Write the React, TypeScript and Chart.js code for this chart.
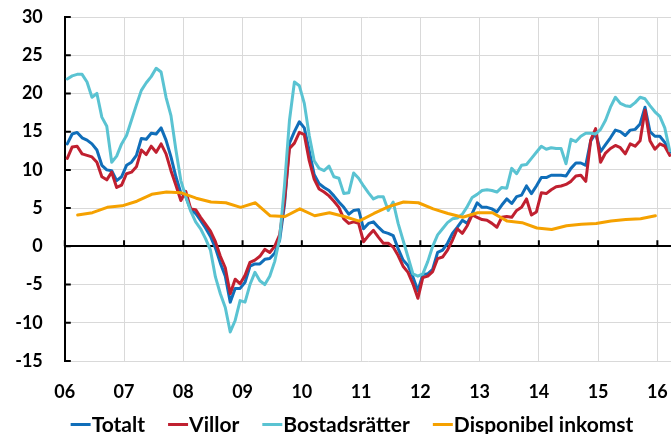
import { useEffect, useRef } from "react";
import { Chart, registerables } from "chart.js";

Chart.register(...registerables);

// ---------- data ----------
const START_YEAR = 2006;
const YEAR_TICKS = [2006, 2007, 2008, 2009, 2010, 2011, 2012, 2013, 2014, 2015, 2016];
const YEAR_LABELS = ["06", "07", "08", "09", "10", "11", "12", "13", "14", "15", "16"];
const Y_MIN = -15;
const Y_MAX = 30;
const Y_STEP = 5;
const X_MAX = 2016.23;

const SERIES_NAMES = ["Totalt", "Villor", "Bostadsrätter", "Disponibel inkomst"];
const SERIES_COLORS = ["#106eb9", "#c02030", "#5ac3d2", "#f5a100"];

// monthly, Jan 2006 .. Mar 2016
const TOTALT = [
  13.4, 14.7, 14.9, 14.2, 13.9, 13.4, 12.6, 10.6, 10.0, 9.9, 8.6, 9.1,
  10.6, 11.0, 11.9, 14.1, 14.0, 14.8, 14.7, 15.5, 13.9, 11.7, 9.1, 7.0,
  6.5, 4.8, 4.3, 3.4, 2.4, 1.3, -0.2, -2.2, -3.9, -7.3, -5.5, -5.5,
  -4.7, -2.6, -2.3, -2.3, -1.7, -1.6, -0.9, 0.8, 5.5, 13.5, 15.0, 16.3,
  15.5, 12.5, 9.4, 8.2, 7.7, 7.3, 6.6, 5.8, 5.1, 4.2, 4.7, 4.8,
  2.3, 3.0, 3.2, 2.5, 1.9, 1.7, 1.4, -0.3, -1.8, -2.5, -4.0, -5.8,
  -3.7, -3.6, -3.0, -0.8, -0.5, 0.4, 1.7, 2.5, 3.4, 3.0, 4.3, 5.7,
  5.1, 5.1, 4.9, 4.5, 5.4, 6.2, 5.6, 6.5, 6.7, 7.9, 6.9, 7.9,
  9.0, 9.0, 9.3, 9.3, 9.3, 9.2, 10.2, 10.9, 10.9, 10.6, 13.8, 14.8,
  12.4, 13.3, 14.2, 15.2, 15.0, 14.5, 15.2, 15.3, 16.0, 18.2, 15.0, 14.4,
  14.4, 13.6, 12.3,
];

const VILLOR = [
  11.5, 13.0, 13.1, 12.1, 11.9, 11.7, 11.0, 9.1, 8.7, 9.7, 7.7, 8.0,
  9.5, 9.7, 10.4, 12.6, 12.0, 13.1, 12.3, 13.4, 12.1, 9.9, 8.0, 6.0,
  7.2, 4.9, 4.8, 3.8, 2.9, 2.0, 0.6, -1.3, -2.8, -6.2, -4.3, -4.9,
  -3.8, -2.1, -1.8, -1.3, -0.4, -0.8, 0.0, 1.5, 6.0, 12.8, 13.5, 14.9,
  14.6, 11.2, 8.8, 7.5, 7.1, 6.6, 5.9, 5.1, 3.6, 3.0, 3.2, 3.0,
  0.6, 1.4, 2.1, 1.2, 0.4, 0.4, -0.1, -1.2, -2.6, -3.4, -4.9, -6.8,
  -4.1, -3.9, -3.3, -1.6, -1.4, -0.5, 0.8, 2.3, 1.7, 2.7, 4.1, 3.8,
  3.5, 3.4, 3.0, 2.5, 3.8, 3.9, 3.8, 4.7, 5.1, 6.2, 4.1, 4.5,
  7.0, 6.9, 7.4, 7.8, 7.9, 8.1, 8.5, 9.2, 9.3, 8.5, 13.9, 15.4,
  11.0, 12.2, 12.8, 13.2, 12.9, 12.1, 13.4, 13.1, 13.8, 17.8, 13.8, 12.7,
  13.4, 13.1, 11.9,
];

const BOSTADSRATTER = [
  21.9, 22.3, 22.5, 22.5, 21.5, 19.5, 20.0, 16.9, 15.7, 11.0, 11.8, 13.4,
  14.5, 16.5, 18.5, 20.4, 21.4, 22.2, 23.3, 22.8, 19.5, 17.1, 12.6, 8.6,
  6.5, 4.6, 3.2, 2.3, 1.0, -0.5, -4.0, -6.2, -8.0, -11.2, -9.7, -7.1,
  -7.3, -5.0, -3.4, -4.5, -5.0, -3.9, -2.0, 1.0, 8.0, 16.5, 21.5, 21.0,
  18.7, 14.5, 11.2, 10.2, 9.9, 10.5, 9.1, 8.9, 6.9, 7.0, 9.6, 8.9,
  7.9, 7.0, 6.2, 6.5, 6.5, 4.7, 5.8, 3.0, 0.8, -1.4, -3.6, -3.9,
  -3.6, -2.0, 0.0, 1.5, 2.3, 3.1, 3.6, 3.7, 4.2, 5.2, 6.4, 6.8,
  7.3, 7.4, 7.3, 7.1, 7.7, 7.6, 10.2, 9.5, 10.6, 10.7, 11.5, 12.3,
  13.1, 12.7, 12.9, 12.8, 12.8, 10.8, 14.0, 13.7, 14.4, 14.8, 14.8, 14.7,
  15.3, 16.5, 18.2, 19.5, 18.7, 18.4, 18.3, 18.8, 19.5, 19.3, 18.4, 17.6,
  17.0, 15.5, 12.5,
];

// quarterly, Q1 2006 .. Q4 2015
const DISPONIBEL = [
  4.1, 4.4, 5.1, 5.3, 5.9, 6.8, 7.1, 7.0,
  6.3, 5.8, 5.7, 5.1, 5.7, 4.0, 3.9, 4.9,
  4.0, 4.4, 3.9, 3.3, 4.3, 5.2, 5.8, 5.7,
  4.9, 4.3, 3.8, 4.4, 4.4, 3.3, 3.1, 2.4,
  2.2, 2.7, 2.9, 3.0, 3.3, 3.5, 3.6, 4.0,
];

// ---------- helpers ----------
const monthly = (vals: number[]) =>
  vals.map((v, i) => ({ x: START_YEAR + (i + 0.5) / 12, y: v }));
const quarterly = (vals: number[]) =>
  vals.map((v, k) => ({ x: START_YEAR + (3 * k + 2.6) / 12, y: v }));

const FONT_FAMILY = 'Lato, "Open Sans", "DejaVu Sans", sans-serif';
const TEXT_COLOR = "#000";
const GRID_COLOR = "#d9d9d9";

const axisMarks = {
  id: "axisMarks",
  beforeDatasetsDraw(chart: any) {
    const { ctx, chartArea, scales } = chart;
    const x = scales.x;
    const y = scales.y;
    ctx.save();
    ctx.strokeStyle = "#000";
    ctx.lineWidth = 2;
    const y0 = y.getPixelForValue(0);
    ctx.beginPath();
    for (const v of YEAR_TICKS) {
      const px = x.getPixelForValue(v);
      ctx.moveTo(px, y0);
      ctx.lineTo(px, y0 - 6);
    }
    for (const t of y.ticks) {
      const py = y.getPixelForValue(t.value);
      ctx.moveTo(chartArea.left, py);
      ctx.lineTo(chartArea.left + 6, py);
    }
    ctx.stroke();
    ctx.restore();
  },
};

const customLegend = {
  id: "customLegend",
  afterDraw(chart: any) {
    const { ctx } = chart;
    ctx.save();
    ctx.font = `bold 21px ${FONT_FAMILY}`;
    ctx.textBaseline = "alphabetic";
    ctx.textAlign = "left";
    const lineW = 20;
    const gapText = 1;
    const gapItem = 23;
    const widths = SERIES_NAMES.map((n) => ctx.measureText(n).width);
    const total =
      widths.reduce((a: number, b: number) => a + b, 0) +
      SERIES_NAMES.length * (lineW + gapText) +
      (SERIES_NAMES.length - 1) * gapItem;
    const centerX = 352;
    let cx = centerX - total / 2;
    const lineY = 424.5;
    const baseY = 431.5;
    SERIES_NAMES.forEach((name, i) => {
      ctx.strokeStyle = SERIES_COLORS[i];
      ctx.lineWidth = 3;
      ctx.beginPath();
      ctx.moveTo(cx, lineY);
      ctx.lineTo(cx + lineW, lineY);
      ctx.stroke();
      ctx.fillStyle = TEXT_COLOR;
      ctx.fillText(name, cx + lineW + gapText, baseY);
      cx += lineW + gapText + widths[i] + gapItem;
    });
    ctx.restore();
  },
};

export default function App() {
  const ref = useRef<HTMLCanvasElement | null>(null);

  useEffect(() => {
    const canvas = ref.current;
    if (!canvas) return;
    const seriesData = [
      monthly(TOTALT),
      monthly(VILLOR),
      monthly(BOSTADSRATTER),
      quarterly(DISPONIBEL),
    ];
    const chart = new Chart(canvas, {
      type: "line",
      data: {
        datasets: seriesData.map((d, i) => ({
          label: SERIES_NAMES[i],
          data: d,
          borderColor: SERIES_COLORS[i],
          backgroundColor: SERIES_COLORS[i],
          borderWidth: 3,
          pointRadius: 0,
          tension: 0,
          fill: false,
          order: SERIES_NAMES.length - i,
          borderJoinStyle: "round",
          borderCapStyle: "round",
        })),
      },
      options: {
        responsive: false,
        animation: false,
        devicePixelRatio: 1,
        events: [],
        layout: { padding: { left: 0, right: 0, top: 17, bottom: 0 } },
        plugins: {
          legend: { display: false },
          tooltip: { enabled: false },
          title: { display: false },
        },
        scales: {
          x: {
            type: "linear",
            min: START_YEAR,
            max: X_MAX,
            afterBuildTicks: (s: any) => {
              s.ticks = YEAR_TICKS.map((v) => ({ value: v }));
            },
            afterFit: (s: any) => {
              s.height = 73;
              s.paddingLeft = 0;
              s.paddingRight = 0;
            },
            grid: { color: GRID_COLOR, lineWidth: 1, drawTicks: false },
            border: { display: false },
            ticks: {
              autoSkip: false,
              maxRotation: 0,
              padding: 20,
              color: TEXT_COLOR,
              font: { family: FONT_FAMILY, size: 18, weight: "bold" },
              callback: (v: any) => YEAR_LABELS[YEAR_TICKS.indexOf(Number(v))] ?? "",
            },
          },
          y: {
            type: "linear",
            min: Y_MIN,
            max: Y_MAX,
            afterFit: (s: any) => {
              s.width = 64.8;
              s.paddingTop = 0;
              s.paddingBottom = 0;
            },
            grid: {
              drawTicks: false,
              color: (c: any) => (c.tick && c.tick.value === 0 ? "#000" : GRID_COLOR),
              lineWidth: (c: any) => (c.tick && c.tick.value === 0 ? 2 : 1),
            },
            border: { display: true, color: "#000", width: 2 },
            ticks: {
              stepSize: Y_STEP,
              padding: 22,
              color: TEXT_COLOR,
              font: { family: FONT_FAMILY, size: 18, weight: "bold" },
            },
          },
        },
      },
      plugins: [axisMarks, customLegend],
    } as any);
    return () => chart.destroy();
  }, []);

  return (
    <div style={{ position: "absolute", left: 0, top: 0, width: 671, height: 434, background: "#fff" }}>
      <canvas ref={ref} width={671} height={434} style={{ display: "block" }} />
    </div>
  );
}
